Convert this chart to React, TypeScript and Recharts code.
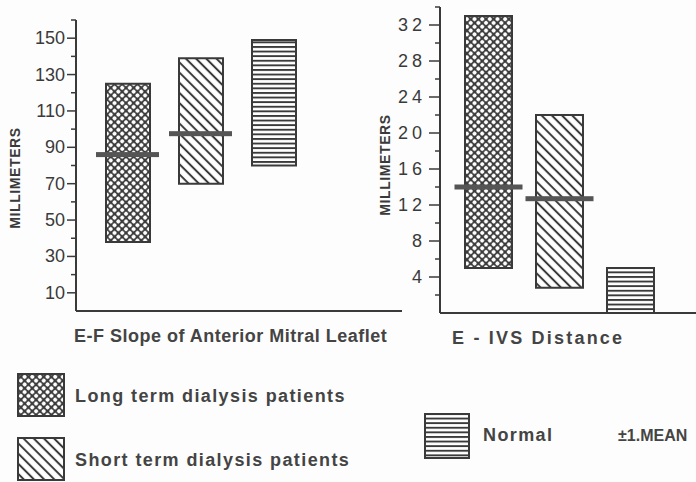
import { ComposedChart, Bar, Line, XAxis, YAxis, Cell } from "recharts";

const INK = "#3a3a3a";
const FONT = "'Liberation Sans', Arial, sans-serif";

const groups = ["Long term dialysis patients", "Short term dialysis patients", "Normal"];
const patternIds = ["hatchLong", "hatchShort", "hatchNormal"];

// E-F slope of anterior mitral leaflet (mm/s)
const efLow = [38, 70, 80];
const efHigh = [125, 139, 149];
const efMean = [86, 97.5, null];
const efTicks = [10, 20, 30, 40, 50, 60, 70, 80, 90, 100, 110, 120, 130, 140, 150, 160];

// E point to interventricular septum distance (mm)
const ivsLow = [5, 2.8, 0];
const ivsHigh = [33, 22, 5];
const ivsMean = [14, 12.7, null];
const ivsTicks = [2, 4, 6, 8, 10, 12, 14, 16, 18, 20, 22, 24, 26, 28, 30, 32, 34];

const efData = groups.map((g, i) => ({ group: g, range: [efLow[i], efHigh[i]], mean: efMean[i] }));
const ivsData = groups.map((g, i) => ({ group: g, range: [ivsLow[i], ivsHigh[i]], mean: ivsMean[i] }));

function Patterns() {
  return (
    <svg width={0} height={0} style={{ position: "absolute" }}>
      <defs>
        <pattern id="hatchLong" width={5.4} height={5.4} patternUnits="userSpaceOnUse" patternTransform="rotate(45)">
          <rect width={5.4} height={5.4} fill="#3c3c3c" />
          <circle cx={2.7} cy={2.7} r={2.05} fill="#fff" />
        </pattern>
        <pattern id="hatchShort" width={7.2} height={7.2} patternUnits="userSpaceOnUse" patternTransform="rotate(45)">
          <rect width={7.2} height={7.2} fill="#fff" />
          <rect y={2.6} width={7.2} height={2} fill="#3a3a3a" />
        </pattern>
        <pattern id="hatchNormal" width={4.6} height={4.6} patternUnits="userSpaceOnUse">
          <rect width={4.6} height={4.6} fill="#fff" />
          <rect y={0} width={4.6} height={1.9} fill="#3a3a3a" />
        </pattern>
      </defs>
    </svg>
  );
}

function meanMark(width: number) {
  return (p: any) => {
    if (p.value == null || p.cy == null) return <g key={p.index} />;
    return <rect key={p.index} x={p.cx - width / 2} y={p.cy - 2.5} width={width} height={5} fill="#555" />;
  };
}

function EfTick({ x, y, payload }: any) {
  const major = payload.value % 20 === 10;
  return (
    <g>
      <line x1={x - (major ? 9 : 5)} x2={x} y1={y} y2={y} stroke={INK} strokeWidth={1.5} />
      {major && (
        <text x={x - 11} y={y} dy={6} textAnchor="end" fontSize={18} fill={INK} fontFamily={FONT}>
          {payload.value}
        </text>
      )}
    </g>
  );
}

function IvsTick({ x, y, payload }: any) {
  const major = payload.value % 4 === 0;
  return (
    <g>
      <line x1={x - (major ? 11 : 5)} x2={x} y1={y} y2={y} stroke={INK} strokeWidth={1.5} />
      {major && (
        <text x={x - 14} y={y} dy={6} textAnchor="end" fontSize={18} letterSpacing={4} fill={INK} fontFamily={FONT}>
          {payload.value}
        </text>
      )}
    </g>
  );
}

function VTitle({ cx, cy }: any) {
  return (
    <text transform={`translate(${cx},${cy}) rotate(-90)`} textAnchor="middle" dy={5} fontSize={14} fontWeight={700} letterSpacing={0.6} fill={INK} fontFamily={FONT}>
      MILLIMETERS
    </text>
  );
}

function HTitle({ tx, ty, text, spacing }: any) {
  return (
    <text x={tx} y={ty} dy={6} fontSize={18} fontWeight={700} letterSpacing={spacing} fill="#444" fontFamily={FONT}>
      {text}
    </text>
  );
}

function Swatch({ id, w, h }: { id: string; w: number; h: number }) {
  return (
    <svg width={w} height={h} style={{ display: "block" }}>
      <rect x={1} y={1} width={w - 2} height={h - 2} fill={`url(#${id})`} stroke={INK} strokeWidth={2} />
    </svg>
  );
}

const legendText: React.CSSProperties = {
  position: "absolute",
  fontFamily: FONT,
  fontSize: 18,
  fontWeight: 700,
  color: "#444",
  letterSpacing: 1.4,
  lineHeight: "20px",
  whiteSpace: "nowrap",
};

export default function App() {
  return (
    <div style={{ position: "fixed", left: 0, top: 0, width: 696, height: 482, background: "#fdfdfd", overflow: "hidden" }}>
      <Patterns />
      <div style={{ position: "absolute", left: 0, top: 0 }}>
        <ComposedChart width={410} height={350} data={efData} margin={{ top: 20, right: 8, bottom: 0, left: 0 }}>
          <XAxis
            dataKey="group"
            height={39}
            tick={false}
            tickLine={false}
            axisLine={{ stroke: INK, strokeWidth: 2 }}
            padding={{ left: 15, right: 92 }}
            label={<HTitle tx={74} ty={336} spacing={0.5} text="E-F Slope of Anterior Mitral Leaflet" />}
          />
          <YAxis
            width={76}
            domain={[0, 160]}
            ticks={efTicks}
            interval={0}
            tickSize={0}
            tickMargin={0}
            tick={<EfTick />}
            axisLine={{ stroke: INK, strokeWidth: 2 }}
            label={<VTitle cx={15} cy={178} />}
          />
          <Bar dataKey="range" barSize={44} isAnimationActive={false} stroke={INK} strokeWidth={2}>
            {efData.map((d, i) => (
              <Cell key={d.group} fill={`url(#${patternIds[i]})`} />
            ))}
          </Bar>
          <Line dataKey="mean" stroke="none" dot={meanMark(63)} activeDot={false} isAnimationActive={false} />
        </ComposedChart>
      </div>
      <div style={{ position: "absolute", left: 360, top: 0 }}>
        <ComposedChart width={336} height={350} data={ivsData} margin={{ top: 7, right: 0, bottom: 0, left: 0 }}>
          <XAxis
            dataKey="group"
            height={37}
            tick={false}
            tickLine={false}
            axisLine={{ stroke: INK, strokeWidth: 2 }}
            padding={{ left: 13, right: 30 }}
            label={<HTitle tx={92} ty={338} spacing={2.2} text="E - IVS Distance" />}
          />
          <YAxis
            width={80}
            domain={[0, 34]}
            ticks={ivsTicks}
            interval={0}
            tickSize={0}
            tickMargin={0}
            tick={<IvsTick />}
            axisLine={{ stroke: INK, strokeWidth: 2 }}
            label={<VTitle cx={25} cy={165} />}
          />
          <Bar dataKey="range" barSize={47} isAnimationActive={false} stroke={INK} strokeWidth={2}>
            {ivsData.map((d, i) => (
              <Cell key={d.group} fill={`url(#${patternIds[i]})`} />
            ))}
          </Bar>
          <Line dataKey="mean" stroke="none" dot={meanMark(68)} activeDot={false} isAnimationActive={false} />
        </ComposedChart>
      </div>

      <div style={{ position: "absolute", left: 17, top: 373 }}>
        <Swatch id="hatchLong" w={48} h={44} />
      </div>
      <div style={{ ...legendText, left: 75, top: 386 }}>{groups[0]}</div>
      <div style={{ position: "absolute", left: 17, top: 437 }}>
        <Swatch id="hatchShort" w={48} h={44} />
      </div>
      <div style={{ ...legendText, left: 75, top: 450 }}>{groups[1]}</div>
      <div style={{ position: "absolute", left: 424, top: 413 }}>
        <Swatch id="hatchNormal" w={46} h={46} />
      </div>
      <div style={{ ...legendText, left: 483, top: 425 }}>{groups[2]}</div>
      <div style={{ ...legendText, left: 618, top: 426, fontSize: 16, letterSpacing: 0 }}>±1.MEAN</div>
    </div>
  );
}
